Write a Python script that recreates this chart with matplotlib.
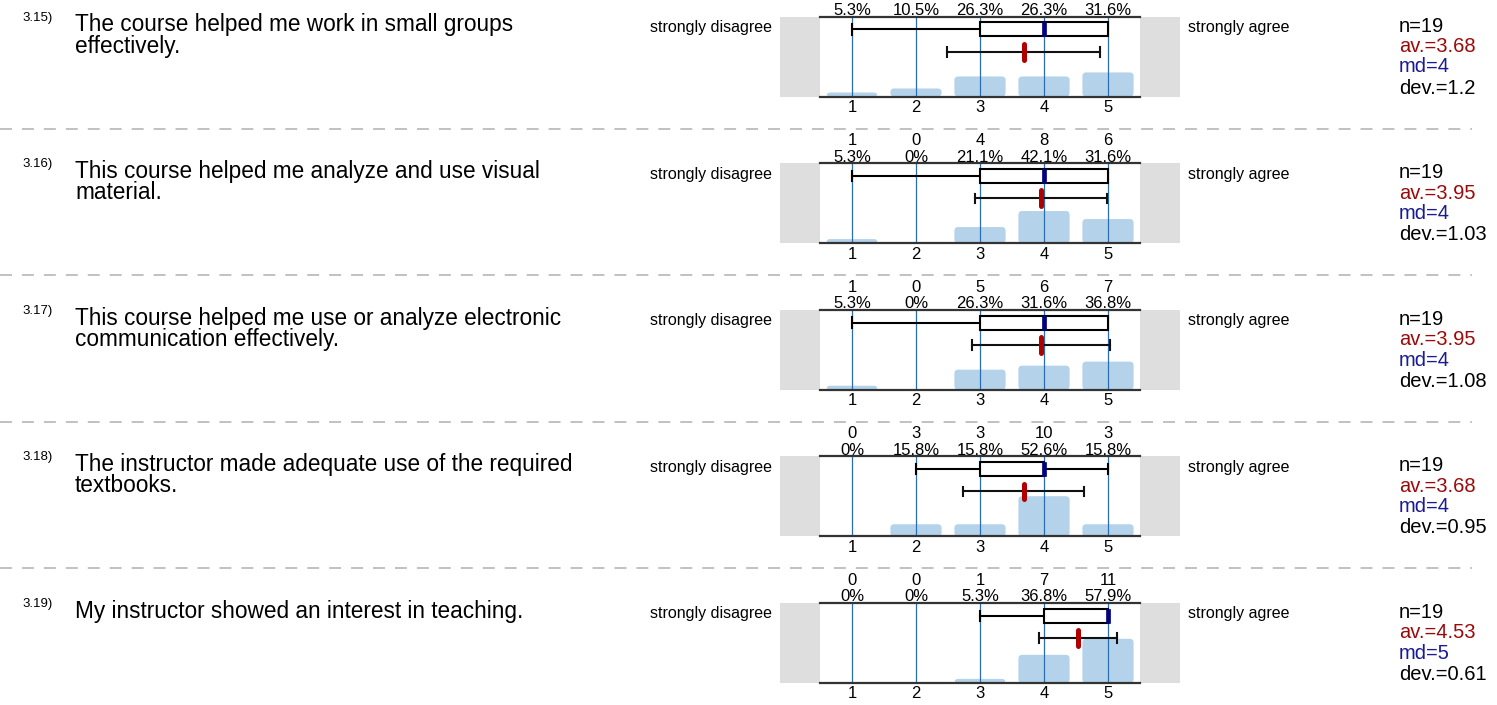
import matplotlib
matplotlib.use("Agg")
import matplotlib.pyplot as plt
from matplotlib.patches import Rectangle, FancyBboxPatch
from matplotlib.lines import Line2D

plt.rcParams['font.family'] = ['Liberation Sans', 'DejaVu Sans']
plt.rcParams['lines.scale_dashes'] = False

# survey data, one entry per question
numbers = ["3.15)", "3.16)", "3.17)", "3.18)", "3.19)"]
questions = [
    "The course helped me work in small groups\neffectively.",
    "This course helped me analyze and use visual\nmaterial.",
    "This course helped me use or analyze electronic\ncommunication effectively.",
    "The instructor made adequate use of the required\ntextbooks.",
    "My instructor showed an interest in teaching.",
]
scale = [1, 2, 3, 4, 5]
counts = [
    [1, 2, 5, 5, 6],
    [1, 0, 4, 8, 6],
    [1, 0, 5, 6, 7],
    [0, 3, 3, 10, 3],
    [0, 0, 1, 7, 11],
]
n_vals = [19, 19, 19, 19, 19]
means = [3.68, 3.95, 3.95, 3.68, 4.53]
medians = [4, 4, 4, 4, 5]
devs = [1.2, 1.03, 1.08, 0.95, 0.61]
# whisker low, Q1, Q3, whisker high
quartiles = [
    (1, 3, 5, 5),
    (1, 3, 5, 5),
    (1, 3, 5, 5),
    (2, 3, 4, 5),
    (3, 4, 5, 5),
]
left_label = "strongly disagree"
right_label = "strongly agree"

W, H = 1497, 705
fig = plt.figure(figsize=(W / 100, H / 100), dpi=100)

def fig_text(x, y, s, **kw):
    # x, y in pixels from top-left
    fig.text(x / W, 1 - y / H, s, **kw)

bar_color = '#b4d3ea'
line_color = '#2a6db4'
gray = '#dedede'

for i in range(len(questions)):
    top = 16.5 + 146.6 * i
    ax = fig.add_axes([820 / W, 1 - (top + 80) / H, 320 / W, 80 / H])
    ax.set_xlim(0.5, 5.5)
    ax.set_ylim(0, 1.05)
    trans = ax.get_xaxis_transform()

    n = n_vals[i]
    fracs = [c / n for c in counts[i]]

    # histogram bars with rounded corners
    bars = ax.bar(scale, fracs, width=0.8, color=bar_color, zorder=1)
    for b in bars:
        if b.get_height() > 0:
            fb = FancyBboxPatch((b.get_x(), b.get_y()), b.get_width(), b.get_height(),
                                boxstyle="round,pad=0,rounding_size=0.06",
                                mutation_aspect=0.84, fc=bar_color, ec='none', zorder=1)
            ax.add_patch(fb)
        b.remove()

    for x in scale:
        ax.axvline(x, color=line_color, lw=0.9, zorder=2)

    # gray side panels
    ax.add_patch(Rectangle((-0.125, 0), 0.625, 1, transform=trans, fc=gray, ec='none',
                           clip_on=False, zorder=0))
    ax.add_patch(Rectangle((5.5, 0), 0.625, 1, transform=trans, fc=gray, ec='none',
                           clip_on=False, zorder=0))

    # box plot
    lo, q1, q3, hi = quartiles[i]
    yb, hb = 0.84, 0.175
    ax.add_patch(Rectangle((q1, yb - hb / 2), q3 - q1, hb, transform=trans,
                           fc='white', ec='black', lw=1.5, zorder=4))
    if lo < q1:
        ax.plot([lo, q1], [yb, yb], color='black', lw=1.5, transform=trans, zorder=4)
        ax.plot([lo, lo], [yb - 0.065, yb + 0.065], color='black', lw=1.5, transform=trans, zorder=4)
    if hi > q3:
        ax.plot([q3, hi], [yb, yb], color='black', lw=1.5, transform=trans, zorder=4)
        ax.plot([hi, hi], [yb - 0.065, yb + 0.065], color='black', lw=1.5, transform=trans, zorder=4)
    ax.add_patch(Rectangle((medians[i] - 0.03, yb - hb / 2), 0.06, hb, transform=trans,
                           fc='#000080', ec='#000080', lw=0.5, zorder=5))

    # mean +/- deviation
    ym = 0.56
    a, c = means[i] - devs[i], means[i] + devs[i]
    ax.plot([a, c], [ym, ym], color='#111111', lw=1.5, transform=trans, zorder=4)
    ax.plot([a, a], [ym - 0.06, ym + 0.06], color='#111111', lw=1.5, transform=trans, zorder=4)
    ax.plot([c, c], [ym - 0.06, ym + 0.06], color='#111111', lw=1.5, transform=trans, zorder=4)
    ax.plot([means[i], means[i]], [ym - 0.1, ym + 0.1], color='#b00000', lw=3.6,
            solid_capstyle='round', transform=trans, zorder=6)

    # axes styling
    for s in ['left', 'right']:
        ax.spines[s].set_visible(False)
    for s in ['top', 'bottom']:
        ax.spines[s].set_color('#333333')
        ax.spines[s].set_linewidth(1.6)
    ax.set_yticks([])
    ax.set_xticks(scale)
    ax.set_xticklabels([str(x) for x in scale], fontsize=12)
    ax.tick_params(axis='x', length=0, pad=2.5)

    # counts and percentages above the plot
    for x, cnt in zip(scale, counts[i]):
        pct = "0%" if cnt == 0 else f"{100 * cnt / n:.1f}%"
        px = 820 + (x - 0.5) * 64
        fig_text(px, top - 1.5, pct, ha='center', va='baseline', fontsize=12)
        if top - 18 > 12:  # the first row's counts fall outside the crop
            fig_text(px, top - 18, str(cnt), ha='center', va='baseline', fontsize=12)

    # question text
    fig_text(22, top + 4, numbers[i], fontsize=9.5, va='baseline')
    for k, line in enumerate(questions[i].split('\n')):
        fig_text(75, top + 15 + 21 * k, line, fontsize=16.3, va='baseline')

    fig_text(772, top + 15.5, left_label, fontsize=11.5, va='baseline', ha='right')
    fig_text(1188, top + 15.5, right_label, fontsize=11.5, va='baseline', ha='left')

    # stats
    fig_text(1399, top + 15, f"n={n}", fontsize=14.5, va='baseline', color='black')
    fig_text(1399, top + 35.5, f"av.={means[i]}", fontsize=14.5, va='baseline', color='#9b0a0a')
    fig_text(1399, top + 56, f"md={medians[i]}", fontsize=14.5, va='baseline', color='#1a1a96')
    fig_text(1399, top + 77, f"dev.={devs[i]}", fontsize=14.5, va='baseline', color='black')

    # dashed separator
    if i < len(questions) - 1:
        ysep = 1 - (top + 112) / H
        fig.add_artist(Line2D([0, 1472 / W], [ysep, ysep], transform=fig.transFigure,
                              color='#b0b0b0', lw=1.1, dashes=(8.6, 7.2)))

fig.savefig("out.png", dpi=100)
